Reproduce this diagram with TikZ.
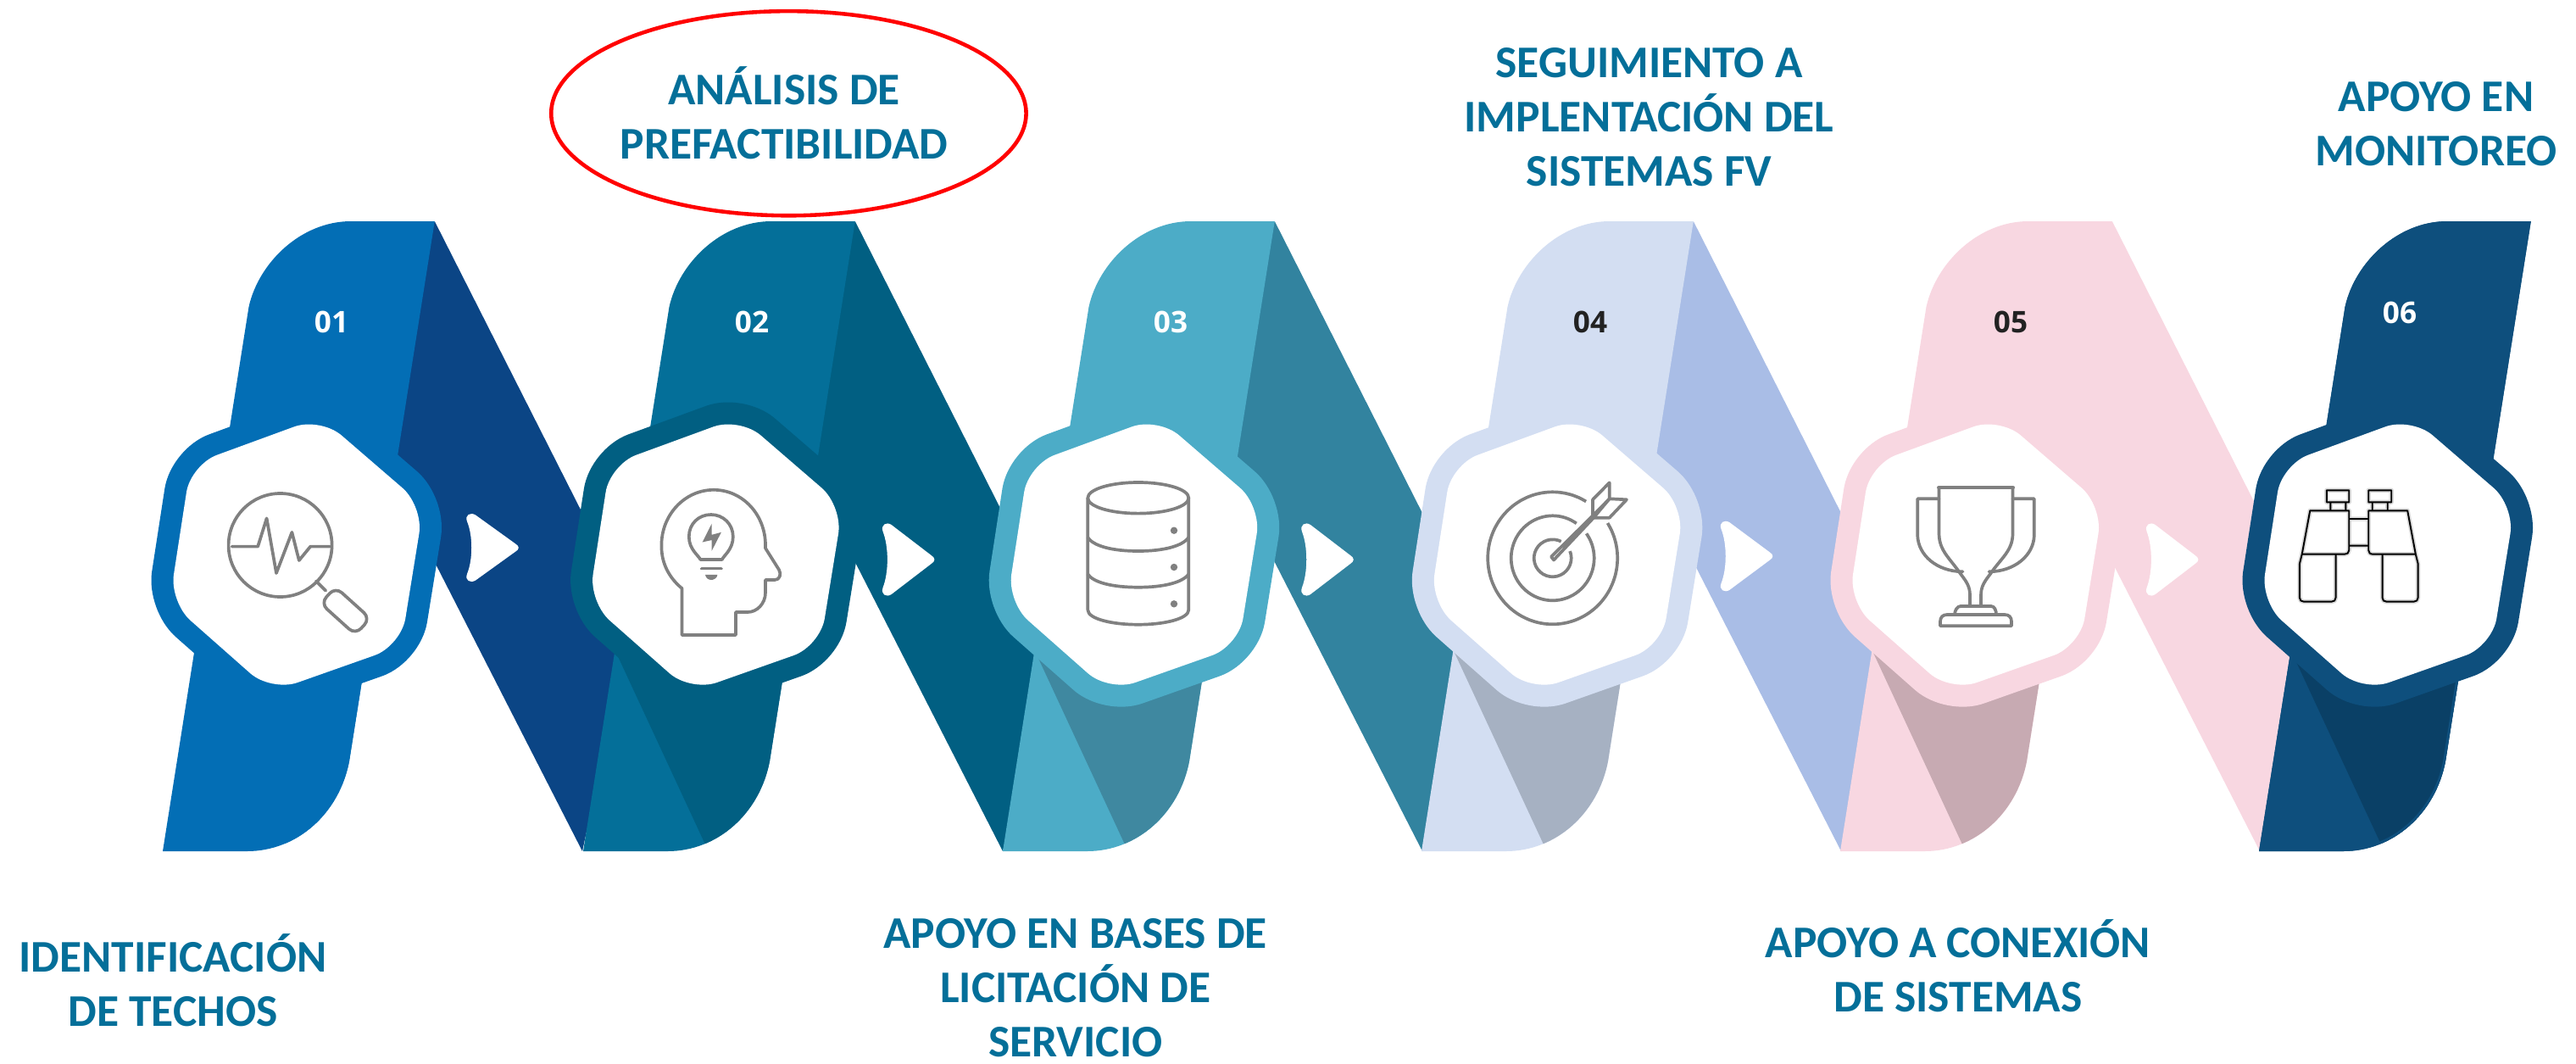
\documentclass[tikz,border=0pt]{standalone}
\usepackage{fontspec}
\setmainfont{Carlito}
\newfontfamily\numfont{Open Sans}
\usetikzlibrary{shapes.geometric}
\definecolor{bandA}{HTML}{036EB5}\definecolor{stripA}{HTML}{0B4585}
\definecolor{bandB}{HTML}{046F99}\definecolor{stripB}{HTML}{015F82}
\definecolor{bandC}{HTML}{4CACC7}\definecolor{stripC}{HTML}{32839F}\definecolor{shadeC}{HTML}{3F88A0}
\definecolor{bandD}{HTML}{D3DEF2}\definecolor{stripD}{HTML}{A9BDE6}\definecolor{shadeD}{HTML}{A6B1C2}
\definecolor{bandE}{HTML}{F8D7E1}\definecolor{stripE}{HTML}{F8D7E1}\definecolor{shadeE}{HTML}{C7AAB2}
\definecolor{bandF}{HTML}{0E4F7D}\definecolor{shadeF}{HTML}{0A4066}
\definecolor{labelcol}{HTML}{046F99}
\definecolor{icongray}{HTML}{808080}
\definecolor{numdark}{HTML}{222222}
\newcommand{\bandpath}{(512.8,261) -- (414,261) .. controls (355,261) and (305,310) .. (293.5,362) -- (192,1004) -- (291.6,1004) .. controls (350,1004) and (400,960) .. (412,898) -- cycle}
\newcommand{\strippath}{(512.8,261) -- (735,700) -- (735,780) -- (687,1004) -- (429.5,500) -- cycle}
\newcommand{\hexpath}{(438.8,544.5) -- (499.7,597) -- (473,762) -- (320,816) -- (200,710) -- (225,548) -- (378,492) -- cycle}
\newcommand{\binopaths}{(2744.8,578.3) rectangle (2771.2,592.3) (2794.2,578.3) rectangle (2821.2,592.3)
 (2749.3,592.3) -- (2749.3,602.3) (2767.3,592.3) -- (2767.3,602.3) (2798.7,592.3) -- (2798.7,602.3) (2816.7,592.3) -- (2816.7,602.3)
 (2725.2,602.3) -- (2771.2,602.3) -- (2771.2,649) .. controls (2771.2,652) and (2769,653.7) .. (2766,653.7) -- (2715.7,653.7) -- cycle
 (2794.2,602.3) -- (2840.2,602.3) -- (2849.8,653.7) -- (2800,653.7) .. controls (2796,653.7) and (2794.2,652) .. (2794.2,649) -- cycle
 (2771.2,612) -- (2794.2,612) (2771.2,643.7) -- (2794.2,643.7)
 (2715.7,653.7) -- (2712.9,665) -- (2712.9,705) .. controls (2712.9,708) and (2715,709.7) .. (2718,709.7) -- (2750.5,709.7) .. controls (2753.5,709.7) and (2755.5,708) .. (2755.5,705) -- (2755.5,653.7)
 (2810.5,653.7) -- (2810.5,705) .. controls (2810.5,708) and (2812.5,709.7) .. (2815.6,709.7) -- (2847.5,709.7) .. controls (2850.5,709.7) and (2852.6,708) .. (2852.6,705) -- (2852.6,665) -- (2849.8,653.7)}
\tikzset{
 x=0.01cm,y=-0.01cm,
 icon/.style={draw=icongray,line width=1.05pt,line join=round,line cap=round},
 label/.style={text=labelcol,font=\fontsize{15.2}{18.2}\selectfont\bfseries,align=center,anchor=base,inner sep=0pt},
 num/.style={font=\numfont\fontsize{10}{12}\selectfont\bfseries,inner sep=0pt},
}
\begin{document}
\begin{tikzpicture}
\useasboundingbox (0,0) rectangle (3039,1254);
\fill[white] (0,0) rectangle (3039,1254);
% modules
\foreach \sx/\hx/\b/\s/\o/\sh/\hasstrip in {0/0/bandA/stripA/bandA/bandA/1,496/-1.4/bandB/stripB/stripB/stripB/1,991/-2.8/bandC/stripC/bandC/shadeC/1,1485/2.3/bandD/stripD/bandD/shadeD/1,1979/2/bandE/stripE/bandE/shadeE/1,2473/-6/bandF/bandF/bandF/shadeF/0}{
 \begin{scope}[shift={(\sx,0)}]
  \ifnum\hasstrip=1 \fill[\s] \strippath; \fi
  \fill[\b] \bandpath;
  \begin{scope}
   \clip \bandpath;
   \fill[\sh] (231,770) -- (336,996) -- (520,1100) -- (520,700) -- cycle;
   \ifnum\hasstrip=0 \draw[\b,line width=0.06cm] \bandpath; \fi
  \end{scope}
  \begin{scope}[shift={(\hx,0)}]
   \draw[\o,line width=0.52cm,line join=round,rounded corners=0.33cm] \hexpath;
   \fill[\o,rounded corners=0.33cm] \hexpath;
   \fill[white,rounded corners=0.33cm] \hexpath;
  \end{scope}
 \end{scope}
}
% play marks
\foreach \bx/\cy/\h in {550/646/0.94,1040.6/660/1,1535/660/1,2029.5/656/0.97,2531.6/660/1}{
 \begin{scope}[shift={(\bx,\cy)},yscale=\h]
  \fill[white] (1,-33) .. controls (-2,-41) and (5,-45) .. (11,-41) -- (58,-5) .. controls (63,-2) and (63,2) .. (58,5) -- (11,41) .. controls (5,45) and (-2,41) .. (1,33) .. controls (8,15) and (8,-15) .. (1,-33) -- cycle;
 \end{scope}
}
% numbers
\node[num,text=white] (n1) at (391,380) {01};
\node[num,text=white] (n2) at (887,380) {02};
\node[num,text=white] (n3) at (1381,380) {03};
\node[num,text=numdark] (n4) at (1876,380) {04};
\node[num,text=numdark] (n5) at (2372,380) {05};
\node[num,text=white] (n6) at (2831,369) {06};
% icon 1: magnifier
\draw[icon] (330.6,643) circle (61);
\draw[icon] (273.6,644.6) -- (304.2,644.6) -- (314.6,611.4) -- (326,676) -- (344.4,627.8) -- (352.8,661) -- (366.2,644.6) -- (389.2,644.6);
\draw[icon] (373,685.4) -- (384.2,696.6);
\draw[icon,rounded corners=0.1cm] (387,702) -- (395.8,692.4) -- (436.8,729.4) -- (419.2,748.6) -- (378.2,711.6) -- (387,702);
% icon 2: head
\draw[icon] (804.5,694) .. controls (790,682) and (780,665) .. (780.4,643) .. controls (780.4,607) and (808,577.8) .. (842,577.8) .. controls (876,577.8) and (903,607) .. (903,643) -- (903,646.6) -- (919,672) .. controls (922,677) and (920,684) .. (914,684) -- (903,684) -- (903,699) .. controls (903,712) and (893,722) .. (882,722) -- (867.9,722) -- (867.9,749) -- (804.5,749) -- cycle;
\draw[icon] (826.3,660) .. controls (824,655) and (812.8,648) .. (812.8,633) .. controls (812.8,618) and (824,607) .. (838.8,607) .. controls (853,607) and (864.8,618) .. (864.8,633) .. controls (864.8,648) and (854,655) .. (851.8,660) -- cycle;
\fill[icongray] (839.7,617.6) -- (828.6,639.5) -- (839.7,637) -- (839.7,649.7) -- (850.9,627.8) -- (839.7,630.8) -- cycle;
\draw[icon] (827.7,670.6) -- (850.9,670.6);
\fill[icongray] (832,677.8) -- (846.4,677.8) .. controls (846,682) and (842,684) .. (839.2,684) .. controls (836,684) and (832.5,682) .. (832,677.8) -- cycle;
% icon 3: database
\draw[icon] (1342.8,587.3) ellipse (59.5 and 18.3);
\draw[icon] (1283.3,587.3) -- (1283.3,719.3) .. controls (1283.3,730) and (1312,736.7) .. (1342.8,736.7) .. controls (1373,736.7) and (1402.3,730) .. (1402.3,719.3) -- (1402.3,587.3);
\draw[icon] (1283.3,634) .. controls (1290,644) and (1312,650) .. (1342.8,650) .. controls (1373,650) and (1395,644) .. (1402.3,634);
\draw[icon] (1283.3,677.3) .. controls (1290,687) and (1312,692.7) .. (1342.8,692.7) .. controls (1373,692.7) and (1395,687) .. (1402.3,677.3);
\fill[icongray] (1385,625.7) circle (4.2) (1385,669) circle (4.2) (1385,712.3) circle (4.2);
% icon 4: target
\draw[icon,line cap=butt] plot[smooth,domain=59:392,samples=50] ({1831.7+76.5*cos(\x)},{658.3-78*sin(\x)});
\draw[icon,line cap=butt] plot[smooth,domain=55:395.5,samples=40] ({1831.7+49*cos(\x)},{658.3-50*sin(\x)});
\draw[icon,line cap=butt] plot[smooth,domain=63:382,samples=30] ({1831.7+22*cos(\x)},{658.3-22*sin(\x)});
\draw[icon] (1879,608.3) -- (1830,656.7) -- (1833,660.5) -- (1880,610.7);
\draw[icon] (1879,608.3) -- (1879,589.3) -- (1898.7,569.3) -- (1898.7,588.3) -- cycle;
\draw[icon] (1880,610.7) -- (1898.7,610.7) -- (1919,589.3) -- (1898.7,588.3) -- cycle;
% icon 5: trophy
\draw[icon,line width=1.4pt] (2287.5,575) -- (2374.5,575);
\draw[icon] (2324,715) -- (2324,702) .. controls (2324,692) and (2320,686) .. (2313,677) .. controls (2300,658) and (2288,650) .. (2287.5,630) -- (2287.5,575);
\draw[icon] (2337,715) -- (2337,702) .. controls (2337,692) and (2341,686) .. (2348,677) .. controls (2361,658) and (2374,650) .. (2374.5,630) -- (2374.5,575);
\draw[icon] (2287.5,588.3) -- (2262.2,588.3) -- (2262.2,631.7) .. controls (2263,655) and (2285,674) .. (2315.5,674.3);
\draw[icon] (2374.5,588.3) -- (2399.8,588.3) -- (2399.8,631.7) .. controls (2399,655) and (2377,674) .. (2346.5,674.3);
\draw[icon] (2306,725) .. controls (2306,720) and (2309,715) .. (2313,715) -- (2349,715) .. controls (2353,715) and (2355,720) .. (2355,725);
\draw[icon] (2289,738.3) -- (2289,733) .. controls (2289,728) and (2292,725) .. (2297,725) -- (2365,725) .. controls (2370,725) and (2373,728) .. (2373,733) -- (2373,738.3) -- cycle;
% icon 6: binoculars
\draw[draw=black!15,line width=1.5pt,line join=round] \binopaths;
\draw[draw=black,line width=0.55pt,line join=round] \binopaths;
% oval
\node[ellipse,draw=red,line width=1.3pt,minimum width=5.6cm,minimum height=2.41cm,inner sep=0pt] (oval) at (930.4,133.7) {};
% labels
\node[label] (t1) at (204,1210.7) {IDENTIFICACIÓN\\DE TECHOS};
\node[label] (t2) at (925,187) {ANÁLISIS DE\\PREFACTIBILIDAD};
\node[label] (t3) at (1268.7,1246) {APOYO EN BASES DE\\LICITACIÓN DE\\SERVICIO};
\node[label] (t4) at (1945.5,219.7) {SEGUIMIENTO A\\IMPLENTACIÓN DEL\\SISTEMAS FV};
\node[label] (t5) at (2310,1193) {APOYO A CONEXIÓN\\DE SISTEMAS};
\node[label] (t6) at (2874,195.7) {APOYO EN\\MONITOREO};
\end{tikzpicture}
\end{document}
